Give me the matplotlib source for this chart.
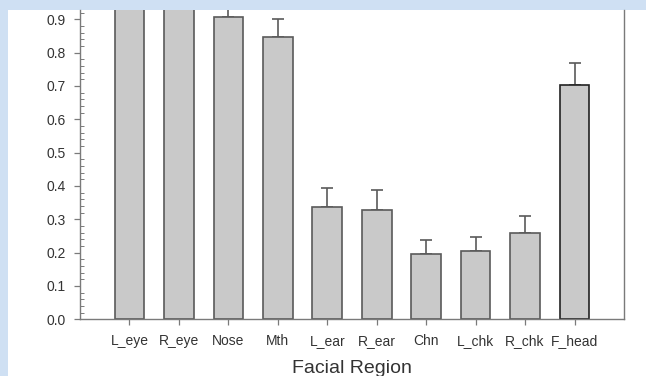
import numpy as np
import matplotlib.pyplot as plt
from matplotlib.patches import Rectangle
from matplotlib.ticker import MultipleLocator

# data (first two bars run past the top of the view)
regions = ['L_eye', 'R_eye', 'Nose', 'Mth', 'L_ear', 'R_ear', 'Chn', 'L_chk', 'R_chk', 'F_head']
means = [0.97, 0.96, 0.906, 0.846, 0.338, 0.328, 0.197, 0.204, 0.258, 0.702]
errs = [0.05, 0.05, 0.045, 0.054, 0.057, 0.060, 0.041, 0.043, 0.052, 0.066]
y_ticks = [0.0, 0.1, 0.2, 0.3, 0.4, 0.5, 0.6, 0.7, 0.8, 0.9]

plt.rcParams['font.family'] = ['Liberation Sans', 'DejaVu Sans']

fig = plt.figure(figsize=(6.46, 3.76), dpi=100)
fig.patch.set_facecolor('#cfe0f3')
# white slide panel
fig.patches.append(Rectangle((8 / 646, 0), 1, 1 - 10 / 376, transform=fig.transFigure,
                             facecolor='white', edgecolor='none', zorder=-10))

ax = fig.add_axes([80 / 646, 1 - 319.3 / 376, 544 / 646, 309.3 / 376])
ax.set_zorder(5)
ax.set_facecolor('white')

x = np.arange(len(regions))
edge = ['#5a5a5a'] * len(regions)
edge[-1] = '#222222'
ax.bar(x, means, width=0.6, color='#c9c9c9', edgecolor=edge, linewidth=1.2, zorder=2)
ax.errorbar(x, means, yerr=[np.zeros(len(errs)), errs], fmt='none', ecolor='#5a5a5a',
            elinewidth=1.2, capsize=4.3, capthick=1.2, zorder=1)

ax.set_xlim(-1, 10)
ax.set_ylim(0, 0.928)
ax.set_xticks(x)
ax.set_xticklabels(regions)
ax.set_yticks(y_ticks)
ax.set_yticklabels(['%.1f' % v for v in y_ticks])
ax.yaxis.set_minor_locator(MultipleLocator(0.02))

for s in ['left', 'bottom', 'right']:
    ax.spines[s].set_color('#7a7a7a')
    ax.spines[s].set_linewidth(1.0)
ax.spines['top'].set_visible(False)

ax.tick_params(axis='y', which='major', direction='out', length=4, width=0.9,
               color='#7a7a7a', labelsize=10, labelcolor='#333333', pad=6)
ax.tick_params(axis='y', which='minor', direction='in', length=3, width=0.7, color='#7a7a7a')
ax.tick_params(axis='x', which='major', direction='out', length=4, width=0.9,
               color='#7a7a7a', labelsize=10, labelcolor='#333333', pad=6.5)
ax.set_xlabel('Facial Region', fontsize=14, color='#333333', labelpad=9)

fig.savefig('out.png', dpi=100, facecolor=fig.get_facecolor())
